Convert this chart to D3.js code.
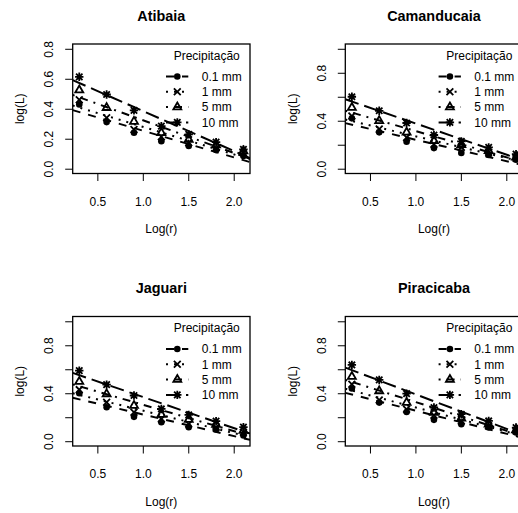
<!DOCTYPE html>
<html>
<head>
<meta charset="utf-8">
<script src="https://cdn.jsdelivr.net/npm/d3@7"></script>
<style>
  body { margin: 0; background: #fff; }
  text { font-family: "Liberation Sans", Arial, Helvetica, sans-serif; fill: #000; }
</style>
</head>
<body>
<svg id="chart"></svg>
<script>
const width = 518;
const height = 513;

// x values: log10 of r = 2, 4, ..., 128
const logR = [0.301, 0.602, 0.903, 1.204, 1.505, 1.806, 2.107];
const precipLabels = ["0.1 mm", "1 mm", "5 mm", "10 mm"];
const basinNames = ["Atibaia", "Camanducaia", "Jaguari", "Piracicaba"];

// log(L) per precipitation class (rows follow precipLabels)
const atibaiaLogL = [
	[0.429, 0.311, 0.240, 0.184, 0.151, 0.124, 0.084],
	[0.460, 0.340, 0.262, 0.213, 0.173, 0.140, 0.107],
	[0.524, 0.407, 0.315, 0.240, 0.195, 0.157, 0.117],
	[0.613, 0.495, 0.389, 0.284, 0.229, 0.177, 0.129],
];
const camanducaiaLogL = [
	[0.420, 0.303, 0.225, 0.172, 0.131, 0.114, 0.075],
	[0.440, 0.330, 0.260, 0.205, 0.178, 0.137, 0.087],
	[0.510, 0.400, 0.303, 0.233, 0.200, 0.150, 0.095],
	[0.600, 0.483, 0.381, 0.281, 0.228, 0.178, 0.122],
];
const jaguariLogL = [
	[0.400, 0.283, 0.203, 0.158, 0.117, 0.097, 0.047],
	[0.430, 0.325, 0.242, 0.186, 0.144, 0.117, 0.075],
	[0.497, 0.394, 0.297, 0.222, 0.180, 0.139, 0.089],
	[0.589, 0.472, 0.381, 0.269, 0.219, 0.167, 0.117],
];
const piracicabaLogL = [
	[0.439, 0.322, 0.244, 0.178, 0.142, 0.114, 0.072],
	[0.475, 0.344, 0.267, 0.217, 0.169, 0.128, 0.086],
	[0.539, 0.419, 0.322, 0.239, 0.192, 0.142, 0.094],
	[0.636, 0.511, 0.397, 0.281, 0.225, 0.169, 0.114],
];
const basinData = [atibaiaLogL, camanducaiaLogL, jaguariLogL, piracicabaLogL];

const yLimits = [[0, 0.8], [0, 1], [0, 1], [0, 1]];
const yTicksAtibaia = [0, 0.2, 0.4, 0.6, 0.8];
const yTicksOther = [0, 0.2, 0.4, 0.6, 0.8, 1.0];
const yLabelsOther = [0, 0.4, 0.8];
const xTicks = [0.5, 1.0, 1.5, 2.0];

const dashes = ["8,8", "2,6", "2,6,8,6", "14,6"];
const fmt = d3.format(".1f");

// plot box inside each panel
const boxL = 72.7, boxR = 250, boxT = 44, boxB = 173.5;
const panelDx = 272.6, panelDy = 272.5;

const svg = d3.select("#chart").attr("width", width).attr("height", height);
svg.append("rect").attr("width", width).attr("height", height).attr("fill", "#fff");

// R-style 4% padding
function padded([a, b]) {
	const d = (b - a) * 0.04;
	return [a - d, b + d];
}

// least squares fit (abline(lm(y ~ x)))
function fitLine(xs, ys) {
	const mx = d3.mean(xs), my = d3.mean(ys);
	let sxy = 0, sxx = 0;
	xs.forEach((x, i) => {
		sxy += (x - mx) * (ys[i] - my);
		sxx += (x - mx) * (x - mx);
	});
	const b = sxy / sxx;
	return { a: my - b * mx, b };
}

function drawSymbol(g, k) {
	const s = 1.8;
	if (k === 0) {
		g.append("circle").attr("r", 3.3).attr("fill", "#000");
	} else if (k === 1) {
		const r = 3.4;
		g.append("path").attr("d", `M${-r},${-r}L${r},${r}M${-r},${r}L${r},${-r}`)
			.attr("stroke", "#000").attr("stroke-width", s);
	} else if (k === 2) {
		const r = 4.6;
		g.append("path")
			.attr("d", `M0,${-r}L${r * 0.866},${r * 0.5}L${-r * 0.866},${r * 0.5}Z`)
			.attr("fill", "none").attr("stroke", "#000").attr("stroke-width", s);
	} else {
		const r = 4.2, q = 3.2;
		g.append("path")
			.attr("d", `M${-r},0L${r},0M0,${-r}L0,${r}M${-q},${-q}L${q},${q}M${-q},${q}L${q},${-q}`)
			.attr("stroke", "#000").attr("stroke-width", s);
	}
}

basinNames.forEach((name, i) => {
	const ox = (i % 2) * panelDx;
	const oy = Math.floor(i / 2) * panelDy;
	const panel = svg.append("g").attr("transform", `translate(${ox},${oy})`);

	const x = d3.scaleLinear().domain(padded([logR[0], logR[logR.length - 1]])).range([boxL, boxR]);
	const y = d3.scaleLinear().domain(padded(yLimits[i])).range([boxB, boxT]);

	const clipId = `clip${i}`;
	panel.append("clipPath").attr("id", clipId)
		.append("rect").attr("x", boxL).attr("y", boxT)
		.attr("width", boxR - boxL).attr("height", boxB - boxT);

	// title
	panel.append("text")
		.attr("x", (boxL + boxR) / 2).attr("y", 20.7)
		.attr("text-anchor", "middle")
		.attr("font-size", 14.4).attr("font-weight", "bold")
		.text(name);

	// x axis
	const xAxis = panel.append("g").attr("transform", `translate(0,${boxB})`)
		.call(d3.axisBottom(x).tickValues(xTicks).tickFormat(fmt).tickSize(7.5).tickPadding(0));
	xAxis.select(".domain").remove();
	xAxis.selectAll("line").attr("stroke", "#000").attr("stroke-width", 1);
	xAxis.selectAll("text").attr("font-size", 12).attr("y", 32).attr("dy", null);

	// y axis
	const yTicks = i === 0 ? yTicksAtibaia : yTicksOther;
	const yLabels = i === 0 ? yTicksAtibaia : yLabelsOther;
	const yAxis = panel.append("g").attr("transform", `translate(${boxL},0)`)
		.call(d3.axisLeft(y).tickValues(yTicks).tickSize(7.5)
			.tickFormat((d) => (yLabels.some((v) => Math.abs(v - d) < 1e-9) ? fmt(d) : "")));
	yAxis.select(".domain").remove();
	yAxis.selectAll("line").attr("stroke", "#000").attr("stroke-width", 1);
	yAxis.selectAll("text")
		.attr("font-size", 12)
		.attr("x", null).attr("dy", null).attr("y", null)
		.attr("text-anchor", "middle")
		.attr("transform", "translate(-19.7,0) rotate(-90)");

	// axis titles
	panel.append("text")
		.attr("x", (boxL + boxR) / 2).attr("y", 233)
		.attr("text-anchor", "middle").attr("font-size", 12)
		.text("Log(r)");
	panel.append("text")
		.attr("transform", `translate(24,${(boxT + boxB) / 2}) rotate(-90)`)
		.attr("text-anchor", "middle").attr("font-size", 12)
		.text("log(L)");

	const plot = panel.append("g").attr("clip-path", `url(#${clipId})`);
	const series = basinData[i];

	// fitted lines
	series.forEach((ys, k) => {
		const f = fitLine(logR, ys);
		const [x0, x1] = x.domain();
		plot.append("line")
			.attr("x1", x(x0)).attr("y1", y(f.a + f.b * x0))
			.attr("x2", x(x1)).attr("y2", y(f.a + f.b * x1))
			.attr("stroke", "#000").attr("stroke-width", 2)
			.attr("stroke-dasharray", dashes[k]);
	});

	// points
	series.forEach((ys, k) => {
		ys.forEach((v, j) => {
			const g = plot.append("g").attr("transform", `translate(${x(logR[j])},${y(v)})`);
			drawSymbol(g, k);
		});
	});

	// box
	panel.append("rect")
		.attr("x", boxL).attr("y", boxT)
		.attr("width", boxR - boxL).attr("height", boxB - boxT)
		.attr("fill", "none").attr("stroke", "#000").attr("stroke-width", 1.3);

	// legend
	const leg = panel.append("g").attr("transform", `translate(${boxR},${boxT})`);
	leg.append("text")
		.attr("x", -43.3).attr("y", 11.5 + 4.3)
		.attr("text-anchor", "middle").attr("font-size", 12)
		.text("Precipitação");
	precipLabels.forEach((lab, k) => {
		const cy = 32.5 + k * 15.3;
		leg.append("line")
			.attr("x1", -84).attr("x2", -61.7).attr("y1", cy).attr("y2", cy)
			.attr("stroke", "#000").attr("stroke-width", 2)
			.attr("stroke-dasharray", dashes[k]);
		const g = leg.append("g").attr("transform", `translate(-72.7,${cy})`);
		drawSymbol(g, k);
		leg.append("text")
			.attr("x", -48.3).attr("y", cy + 4.3)
			.attr("font-size", 12)
			.text(lab);
	});
});
</script>
</body>
</html>
